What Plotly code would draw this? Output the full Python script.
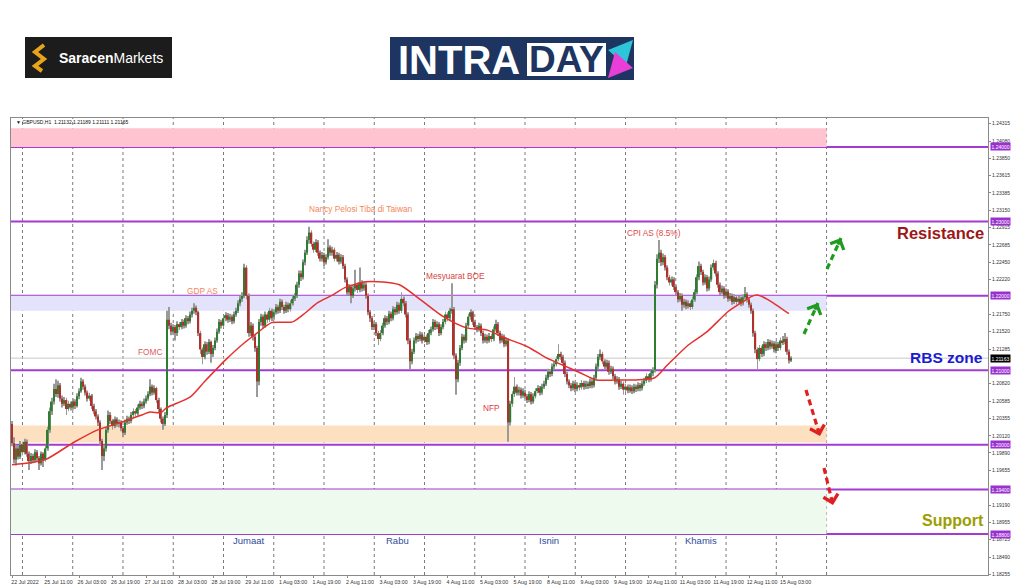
import plotly.graph_objects as go

# ---------------- data ----------------
x_labels = ["22 Jul 2022", "25 Jul 11:00", "26 Jul 03:00", "26 Jul 19:00", "27 Jul 11:00",
            "28 Jul 03:00", "28 Jul 19:00", "29 Jul 11:00", "1 Aug 03:00", "1 Aug 19:00",
            "2 Aug 11:00", "3 Aug 03:00", "3 Aug 19:00", "4 Aug 11:00", "5 Aug 03:00",
            "5 Aug 19:00", "8 Aug 11:00", "9 Aug 03:00", "9 Aug 19:00", "10 Aug 11:00",
            "11 Aug 03:00", "11 Aug 19:00", "12 Aug 11:00", "15 Aug 03:00"]
label_every = 16      # H1 bars between time labels
day_start_bar = 5     # first 00:00 bar (25 Jul)
bars_per_day = 24

opens = [
    1.2028, 1.2002, 1.1980, 1.1995, 1.1984, 1.2000, 1.1990, 1.2004, 1.1988, 1.1978,
    1.1985, 1.1979, 1.1990, 1.1982, 1.1975, 1.1988, 1.1980, 1.1995, 1.2020, 1.2045,
    1.2058, 1.2075, 1.2068, 1.2080, 1.2062, 1.2055, 1.2060, 1.2048, 1.2055, 1.2050,
    1.2058, 1.2052, 1.2065, 1.2072, 1.2085, 1.2078, 1.2070, 1.2062, 1.2066, 1.2052,
    1.2045, 1.2038, 1.2030, 1.2005, 1.1985, 1.1995, 1.2020, 1.2040, 1.2032, 1.2025,
    1.2034, 1.2028, 1.2030, 1.2022, 1.2016, 1.2030, 1.2035, 1.2032, 1.2040, 1.2045,
    1.2042, 1.2050, 1.2055, 1.2052, 1.2058, 1.2062, 1.2068, 1.2078, 1.2070, 1.2076,
    1.2060, 1.2048, 1.2035, 1.2028, 1.2040, 1.2168, 1.2160, 1.2152, 1.2158, 1.2150,
    1.2162, 1.2158, 1.2165, 1.2160, 1.2170, 1.2166, 1.2175, 1.2180, 1.2184, 1.2178,
    1.2150, 1.2128, 1.2118, 1.2135, 1.2125, 1.2138, 1.2122, 1.2130, 1.2140, 1.2152,
    1.2165, 1.2160, 1.2170, 1.2174, 1.2168, 1.2172, 1.2166, 1.2175, 1.2180, 1.2190,
    1.2196, 1.2200, 1.2238, 1.2200, 1.2150, 1.2160, 1.2145, 1.2130, 1.2085, 1.2165,
    1.2172, 1.2160, 1.2175, 1.2168, 1.2180, 1.2172, 1.2178, 1.2185, 1.2180, 1.2192,
    1.2185, 1.2180, 1.2188, 1.2182, 1.2190, 1.2196, 1.2200, 1.2215, 1.2230, 1.2225,
    1.2245, 1.2258, 1.2275, 1.2285, 1.2270, 1.2262, 1.2272, 1.2258, 1.2250, 1.2255,
    1.2245, 1.2252, 1.2265, 1.2258, 1.2262, 1.2250, 1.2255, 1.2246, 1.2252, 1.2240,
    1.2222, 1.2205, 1.2212, 1.2200, 1.2210, 1.2215, 1.2208, 1.2218, 1.2210, 1.2215,
    1.2200, 1.2178, 1.2170, 1.2158, 1.2162, 1.2150, 1.2142, 1.2150, 1.2160, 1.2170,
    1.2165, 1.2176, 1.2170, 1.2182, 1.2178, 1.2188, 1.2180, 1.2196, 1.2190, 1.2175,
    1.2140, 1.2112, 1.2125, 1.2140, 1.2146, 1.2142, 1.2148, 1.2140, 1.2145, 1.2138,
    1.2150, 1.2155, 1.2165, 1.2158, 1.2162, 1.2150, 1.2158, 1.2165, 1.2175, 1.2170,
    1.2180, 1.2182, 1.2120, 1.2088, 1.2110, 1.2130, 1.2145, 1.2140, 1.2160, 1.2172,
    1.2178, 1.2165, 1.2158, 1.2155, 1.2160, 1.2150, 1.2140, 1.2145, 1.2140, 1.2146,
    1.2142, 1.2155, 1.2162, 1.2150, 1.2140, 1.2145, 1.2135, 1.2140, 1.2030, 1.2055,
    1.2068, 1.2078, 1.2070, 1.2074, 1.2066, 1.2070, 1.2065, 1.2060, 1.2068, 1.2058,
    1.2065, 1.2072, 1.2076, 1.2070, 1.2078, 1.2082, 1.2090, 1.2098, 1.2095, 1.2105,
    1.2108, 1.2115, 1.2122, 1.2118, 1.2110, 1.2095, 1.2085, 1.2080, 1.2076, 1.2082,
    1.2075, 1.2080, 1.2077, 1.2083, 1.2078, 1.2082, 1.2079, 1.2085, 1.2080, 1.2090,
    1.2105, 1.2118, 1.2122, 1.2112, 1.2105, 1.2110, 1.2098, 1.2102, 1.2092, 1.2085,
    1.2088, 1.2078, 1.2082, 1.2074, 1.2078, 1.2073, 1.2077, 1.2072, 1.2078, 1.2075,
    1.2080, 1.2076, 1.2082, 1.2086, 1.2092, 1.2088, 1.2096, 1.2100, 1.2215, 1.2250,
    1.2258, 1.2245, 1.2252, 1.2238, 1.2225, 1.2218, 1.2222, 1.2212, 1.2205, 1.2195,
    1.2200, 1.2188, 1.2192, 1.2186, 1.2190, 1.2185, 1.2195, 1.2205, 1.2225, 1.2240,
    1.2232, 1.2218, 1.2225, 1.2210, 1.2222, 1.2238, 1.2244, 1.2230, 1.2215, 1.2205,
    1.2210, 1.2200, 1.2206, 1.2196, 1.2200, 1.2192, 1.2198, 1.2192, 1.2196, 1.2190,
    1.2198, 1.2202, 1.2195, 1.2188, 1.2180, 1.2150, 1.2128, 1.2115, 1.2130, 1.2122,
    1.2135, 1.2130, 1.2138, 1.2132, 1.2136, 1.2126, 1.2135, 1.2130, 1.2140, 1.2138,
    1.2142, 1.2125, 1.21132]

highs = [
    1.2032, 1.2010, 1.2000, 1.1999, 1.2005, 1.2004, 1.2008, 1.2007, 1.1991, 1.1989,
    1.1988, 1.1994, 1.1993, 1.1985, 1.1991, 1.1990, 1.1999, 1.2024, 1.2050, 1.2063,
    1.2082, 1.2088, 1.2086, 1.2083, 1.2066, 1.2064, 1.2063, 1.2059, 1.2058, 1.2062,
    1.2061, 1.2069, 1.2076, 1.2090, 1.2088, 1.2081, 1.2073, 1.2070, 1.2068, 1.2055,
    1.2048, 1.2041, 1.2033, 1.2008, 1.1999, 1.2024, 1.2046, 1.2044, 1.2035, 1.2038,
    1.2037, 1.2034, 1.2033, 1.2025, 1.2034, 1.2039, 1.2038, 1.2044, 1.2049, 1.2048,
    1.2054, 1.2059, 1.2058, 1.2062, 1.2066, 1.2072, 1.2088, 1.2081, 1.2080, 1.2078,
    1.2063, 1.2050, 1.2038, 1.2044, 1.2180, 1.2185, 1.2164, 1.2162, 1.2161, 1.2166,
    1.2165, 1.2169, 1.2168, 1.2174, 1.2173, 1.2179, 1.2184, 1.2190, 1.2187, 1.2180,
    1.2153, 1.2131, 1.2139, 1.2138, 1.2142, 1.2140, 1.2134, 1.2144, 1.2156, 1.2169,
    1.2168, 1.2174, 1.2178, 1.2177, 1.2176, 1.2175, 1.2179, 1.2184, 1.2194, 1.2200,
    1.2205, 1.2243, 1.2241, 1.2203, 1.2165, 1.2163, 1.2148, 1.2133, 1.2169, 1.2176,
    1.2175, 1.2179, 1.2178, 1.2184, 1.2183, 1.2182, 1.2189, 1.2188, 1.2196, 1.2195,
    1.2188, 1.2192, 1.2191, 1.2194, 1.2200, 1.2204, 1.2219, 1.2234, 1.2234, 1.2249,
    1.2262, 1.2280, 1.2293, 1.2288, 1.2273, 1.2276, 1.2275, 1.2261, 1.2259, 1.2258,
    1.2256, 1.2276, 1.2268, 1.2266, 1.2265, 1.2259, 1.2258, 1.2256, 1.2255, 1.2243,
    1.2225, 1.2216, 1.2215, 1.2214, 1.2235, 1.2218, 1.2238, 1.2221, 1.2219, 1.2218,
    1.2203, 1.2181, 1.2173, 1.2166, 1.2165, 1.2153, 1.2154, 1.2164, 1.2174, 1.2173,
    1.2180, 1.2179, 1.2186, 1.2185, 1.2192, 1.2191, 1.2205, 1.2199, 1.2193, 1.2178,
    1.2143, 1.2129, 1.2144, 1.2150, 1.2149, 1.2152, 1.2151, 1.2149, 1.2148, 1.2154,
    1.2159, 1.2169, 1.2168, 1.2166, 1.2165, 1.2162, 1.2169, 1.2179, 1.2178, 1.2184,
    1.2217, 1.2185, 1.2123, 1.2114, 1.2134, 1.2149, 1.2148, 1.2164, 1.2176, 1.2182,
    1.2180, 1.2168, 1.2161, 1.2164, 1.2163, 1.2153, 1.2149, 1.2148, 1.2150, 1.2149,
    1.2159, 1.2168, 1.2165, 1.2153, 1.2149, 1.2148, 1.2144, 1.2143, 1.2059, 1.2072,
    1.2091, 1.2081, 1.2078, 1.2077, 1.2076, 1.2074, 1.2068, 1.2072, 1.2071, 1.2069,
    1.2076, 1.2080, 1.2079, 1.2082, 1.2086, 1.2094, 1.2102, 1.2101, 1.2109, 1.2112,
    1.2119, 1.2135, 1.2125, 1.2121, 1.2113, 1.2098, 1.2088, 1.2083, 1.2086, 1.2085,
    1.2084, 1.2083, 1.2087, 1.2086, 1.2086, 1.2085, 1.2089, 1.2088, 1.2094, 1.2109,
    1.2122, 1.2128, 1.2125, 1.2115, 1.2114, 1.2113, 1.2106, 1.2105, 1.2095, 1.2092,
    1.2091, 1.2086, 1.2085, 1.2082, 1.2081, 1.2081, 1.2080, 1.2082, 1.2081, 1.2084,
    1.2083, 1.2086, 1.2090, 1.2096, 1.2095, 1.2100, 1.2104, 1.2220, 1.2256, 1.2275,
    1.2262, 1.2257, 1.2255, 1.2241, 1.2228, 1.2226, 1.2225, 1.2215, 1.2208, 1.2204,
    1.2203, 1.2196, 1.2195, 1.2194, 1.2193, 1.2199, 1.2209, 1.2229, 1.2246, 1.2243,
    1.2235, 1.2229, 1.2228, 1.2226, 1.2242, 1.2249, 1.2247, 1.2233, 1.2218, 1.2214,
    1.2213, 1.2210, 1.2209, 1.2204, 1.2203, 1.2202, 1.2201, 1.2200, 1.2199, 1.2202,
    1.2212, 1.2205, 1.2198, 1.2191, 1.2183, 1.2153, 1.2131, 1.2134, 1.2133, 1.2139,
    1.2138, 1.2142, 1.2141, 1.2140, 1.2139, 1.2139, 1.2138, 1.2144, 1.2146, 1.2150,
    1.2145, 1.2128, 1.21189]

lows = [
    1.1998, 1.1975, 1.1972, 1.1980, 1.1981, 1.1986, 1.1987, 1.1984, 1.1966, 1.1974,
    1.1975, 1.1976, 1.1978, 1.1966, 1.1972, 1.1970, 1.1977, 1.1992, 1.2016, 1.2040,
    1.2054, 1.2064, 1.2063, 1.2058, 1.2050, 1.2052, 1.2040, 1.2045, 1.2046, 1.2047,
    1.2048, 1.2050, 1.2061, 1.2070, 1.2074, 1.2066, 1.2058, 1.2059, 1.2048, 1.2041,
    1.2034, 1.2025, 1.2000, 1.1966, 1.1978, 1.1991, 1.2016, 1.2028, 1.2020, 1.2022,
    1.2024, 1.2023, 1.2018, 1.2010, 1.2013, 1.2027, 1.2028, 1.2029, 1.2037, 1.2038,
    1.2039, 1.2047, 1.2048, 1.2049, 1.2055, 1.2059, 1.2065, 1.2066, 1.2067, 1.2056,
    1.2044, 1.2030, 1.2020, 1.2025, 1.2036, 1.2155, 1.2147, 1.2148, 1.2140, 1.2146,
    1.2154, 1.2155, 1.2156, 1.2157, 1.2162, 1.2163, 1.2171, 1.2176, 1.2174, 1.2146,
    1.2122, 1.2108, 1.2115, 1.2121, 1.2122, 1.2110, 1.2118, 1.2127, 1.2137, 1.2149,
    1.2156, 1.2157, 1.2166, 1.2164, 1.2165, 1.2162, 1.2163, 1.2172, 1.2177, 1.2186,
    1.2192, 1.2197, 1.2195, 1.2145, 1.2146, 1.2140, 1.2125, 1.2064, 1.2080, 1.2160,
    1.2156, 1.2157, 1.2164, 1.2165, 1.2166, 1.2168, 1.2175, 1.2176, 1.2177, 1.2181,
    1.2176, 1.2177, 1.2178, 1.2179, 1.2187, 1.2193, 1.2197, 1.2211, 1.2220, 1.2222,
    1.2241, 1.2255, 1.2270, 1.2266, 1.2258, 1.2259, 1.2254, 1.2246, 1.2246, 1.2240,
    1.2242, 1.2249, 1.2254, 1.2254, 1.2246, 1.2246, 1.2242, 1.2243, 1.2236, 1.2218,
    1.2200, 1.2201, 1.2190, 1.2197, 1.2206, 1.2204, 1.2205, 1.2206, 1.2207, 1.2196,
    1.2174, 1.2165, 1.2154, 1.2154, 1.2146, 1.2134, 1.2139, 1.2147, 1.2157, 1.2161,
    1.2162, 1.2166, 1.2167, 1.2174, 1.2175, 1.2176, 1.2177, 1.2186, 1.2171, 1.2135,
    1.2101, 1.2108, 1.2122, 1.2136, 1.2138, 1.2139, 1.2136, 1.2137, 1.2134, 1.2135,
    1.2147, 1.2152, 1.2154, 1.2155, 1.2146, 1.2147, 1.2155, 1.2162, 1.2166, 1.2167,
    1.2176, 1.2115, 1.2067, 1.2084, 1.2106, 1.2127, 1.2136, 1.2137, 1.2157, 1.2168,
    1.2161, 1.2154, 1.2151, 1.2152, 1.2146, 1.2136, 1.2137, 1.2136, 1.2137, 1.2138,
    1.2139, 1.2152, 1.2146, 1.2136, 1.2137, 1.2131, 1.2132, 1.2004, 1.2026, 1.2051,
    1.2064, 1.2066, 1.2066, 1.2062, 1.2063, 1.2061, 1.2056, 1.2057, 1.2054, 1.2055,
    1.2062, 1.2069, 1.2066, 1.2067, 1.2075, 1.2079, 1.2087, 1.2091, 1.2092, 1.2101,
    1.2105, 1.2112, 1.2114, 1.2106, 1.2091, 1.2081, 1.2076, 1.2072, 1.2073, 1.2071,
    1.2072, 1.2073, 1.2074, 1.2074, 1.2075, 1.2075, 1.2076, 1.2076, 1.2077, 1.2087,
    1.2101, 1.2114, 1.2108, 1.2101, 1.2102, 1.2094, 1.2095, 1.2088, 1.2081, 1.2082,
    1.2074, 1.2075, 1.2067, 1.2071, 1.2069, 1.2070, 1.2068, 1.2069, 1.2071, 1.2072,
    1.2072, 1.2073, 1.2079, 1.2083, 1.2084, 1.2085, 1.2092, 1.2097, 1.2210, 1.2244,
    1.2240, 1.2241, 1.2234, 1.2221, 1.2214, 1.2214, 1.2208, 1.2201, 1.2191, 1.2192,
    1.2180, 1.2184, 1.2182, 1.2183, 1.2181, 1.2182, 1.2192, 1.2202, 1.2221, 1.2228,
    1.2214, 1.2215, 1.2206, 1.2207, 1.2219, 1.2234, 1.2226, 1.2211, 1.2201, 1.2202,
    1.2196, 1.2197, 1.2192, 1.2193, 1.2188, 1.2189, 1.2188, 1.2189, 1.2186, 1.2187,
    1.2195, 1.2191, 1.2184, 1.2176, 1.2145, 1.2123, 1.2101, 1.2112, 1.2118, 1.2119,
    1.2126, 1.2127, 1.2128, 1.2129, 1.2124, 1.2123, 1.2126, 1.2127, 1.2134, 1.2135,
    1.2121, 1.2109, 1.21111]

closes = [
    1.2002, 1.1980, 1.1995, 1.1984, 1.2000, 1.1990, 1.2004, 1.1988, 1.1978, 1.1985,
    1.1979, 1.1990, 1.1982, 1.1975, 1.1988, 1.1980, 1.1995, 1.2020, 1.2045, 1.2058,
    1.2075, 1.2068, 1.2080, 1.2062, 1.2055, 1.2060, 1.2048, 1.2055, 1.2050, 1.2058,
    1.2052, 1.2065, 1.2072, 1.2085, 1.2078, 1.2070, 1.2062, 1.2066, 1.2052, 1.2045,
    1.2038, 1.2030, 1.2005, 1.1985, 1.1995, 1.2020, 1.2040, 1.2032, 1.2025, 1.2034,
    1.2028, 1.2030, 1.2022, 1.2016, 1.2030, 1.2035, 1.2032, 1.2040, 1.2045, 1.2042,
    1.2050, 1.2055, 1.2052, 1.2058, 1.2062, 1.2068, 1.2078, 1.2070, 1.2076, 1.2060,
    1.2048, 1.2035, 1.2028, 1.2040, 1.2168, 1.2160, 1.2152, 1.2158, 1.2150, 1.2162,
    1.2158, 1.2165, 1.2160, 1.2170, 1.2166, 1.2175, 1.2180, 1.2184, 1.2178, 1.2150,
    1.2128, 1.2118, 1.2135, 1.2125, 1.2138, 1.2122, 1.2130, 1.2140, 1.2152, 1.2165,
    1.2160, 1.2170, 1.2174, 1.2168, 1.2172, 1.2166, 1.2175, 1.2180, 1.2190, 1.2196,
    1.2200, 1.2238, 1.2200, 1.2150, 1.2160, 1.2145, 1.2130, 1.2085, 1.2165, 1.2172,
    1.2160, 1.2175, 1.2168, 1.2180, 1.2170, 1.2178, 1.2185, 1.2180, 1.2192, 1.2185,
    1.2180, 1.2188, 1.2182, 1.2190, 1.2196, 1.2200, 1.2215, 1.2230, 1.2225, 1.2245,
    1.2258, 1.2275, 1.2285, 1.2270, 1.2262, 1.2272, 1.2258, 1.2250, 1.2255, 1.2245,
    1.2252, 1.2265, 1.2258, 1.2262, 1.2250, 1.2255, 1.2246, 1.2252, 1.2240, 1.2222,
    1.2205, 1.2212, 1.2200, 1.2210, 1.2215, 1.2208, 1.2218, 1.2210, 1.2215, 1.2200,
    1.2178, 1.2170, 1.2158, 1.2162, 1.2150, 1.2142, 1.2150, 1.2160, 1.2170, 1.2165,
    1.2176, 1.2170, 1.2182, 1.2178, 1.2188, 1.2180, 1.2196, 1.2190, 1.2175, 1.2140,
    1.2112, 1.2125, 1.2140, 1.2146, 1.2142, 1.2148, 1.2140, 1.2145, 1.2138, 1.2150,
    1.2155, 1.2165, 1.2158, 1.2162, 1.2150, 1.2158, 1.2165, 1.2175, 1.2170, 1.2180,
    1.2182, 1.2120, 1.2088, 1.2110, 1.2130, 1.2145, 1.2140, 1.2160, 1.2172, 1.2178,
    1.2165, 1.2158, 1.2155, 1.2160, 1.2150, 1.2140, 1.2145, 1.2140, 1.2146, 1.2142,
    1.2155, 1.2162, 1.2150, 1.2140, 1.2145, 1.2135, 1.2140, 1.2030, 1.2055, 1.2068,
    1.2078, 1.2070, 1.2074, 1.2066, 1.2072, 1.2065, 1.2060, 1.2068, 1.2058, 1.2065,
    1.2072, 1.2076, 1.2070, 1.2078, 1.2082, 1.2090, 1.2098, 1.2095, 1.2105, 1.2108,
    1.2115, 1.2122, 1.2118, 1.2110, 1.2095, 1.2085, 1.2080, 1.2076, 1.2082, 1.2075,
    1.2080, 1.2077, 1.2083, 1.2078, 1.2082, 1.2079, 1.2085, 1.2080, 1.2090, 1.2105,
    1.2118, 1.2122, 1.2112, 1.2105, 1.2110, 1.2098, 1.2102, 1.2092, 1.2085, 1.2088,
    1.2078, 1.2082, 1.2074, 1.2078, 1.2073, 1.2077, 1.2072, 1.2078, 1.2075, 1.2080,
    1.2076, 1.2082, 1.2086, 1.2092, 1.2088, 1.2096, 1.2100, 1.2215, 1.2250, 1.2258,
    1.2245, 1.2252, 1.2238, 1.2225, 1.2218, 1.2222, 1.2212, 1.2205, 1.2195, 1.2200,
    1.2188, 1.2192, 1.2186, 1.2190, 1.2185, 1.2195, 1.2205, 1.2225, 1.2240, 1.2232,
    1.2218, 1.2225, 1.2210, 1.2222, 1.2238, 1.2244, 1.2230, 1.2215, 1.2205, 1.2210,
    1.2200, 1.2206, 1.2196, 1.2200, 1.2192, 1.2198, 1.2192, 1.2196, 1.2190, 1.2198,
    1.2202, 1.2195, 1.2188, 1.2180, 1.2150, 1.2128, 1.2115, 1.2130, 1.2122, 1.2135,
    1.2130, 1.2138, 1.2132, 1.2136, 1.2128, 1.2135, 1.2130, 1.2140, 1.2138, 1.2142,
    1.2125, 1.2113, 1.21165]

# moving average (red line) sampled at bar positions
ma_bars = [0, 9, 16, 30, 41, 51, 62, 66, 71, 74, 85, 92, 102, 111, 117, 124, 134, 140,
           146, 153, 159, 169, 175, 185, 195, 206, 217, 227, 234, 246, 255, 263, 271,
           279, 288, 298, 307, 313, 323, 332, 342, 349, 353, 356, 361, 371]
ma_vals = [1.1973, 1.1976, 1.1980, 1.2004, 1.2020, 1.2029, 1.2040, 1.2044, 1.2043, 1.2050,
           1.2064, 1.2085, 1.2114, 1.2137, 1.2150, 1.2164, 1.2165, 1.2177, 1.2191, 1.2201,
           1.2211, 1.2219, 1.2219, 1.2215, 1.2195, 1.2172, 1.2157, 1.2154, 1.2145, 1.2132,
           1.2117, 1.2107, 1.2097, 1.2087, 1.2087, 1.2087, 1.2090, 1.2107, 1.2134, 1.2152,
           1.2179, 1.2192, 1.2199, 1.2201, 1.2195, 1.2176]

level_prices = [1.2400, 1.2300, 1.2200, 1.2100, 1.2000, 1.1940, 1.1880]
y_ticks = [1.24315, 1.24080, 1.23850, 1.23615, 1.23385, 1.23150, 1.22915, 1.22685,
           1.22450, 1.22220, 1.21750, 1.21520, 1.21285, 1.20820,
           1.20585, 1.20355, 1.20120, 1.19890, 1.19655, 1.19190, 1.18955,
           1.18725, 1.18490, 1.18255]
last_price = 1.21163

zone_low = [1.2400, 1.2180, 1.2003, 1.1880]
zone_high = [1.2425, 1.2200, 1.2026, 1.1940]
zone_colors = ["#ffc4cf", "#e3e3fb", "#fde0c0", "#edfaed"]
zone_end_bar = 389

event_text = ["FOMC", "GDP AS", "Nancy Pelosi Tiba di Taiwan", "Mesyuarat BOE", "NFP", "CPI AS (8.5%)"]
event_bar = [66, 91, 166.7, 212, 229, 306.6]
event_price = [1.2125, 1.2207, 1.2317, 1.2227, 1.2050, 1.2285]
event_color = ["#e25c5c", "#f2875a", "#f2875a", "#d84444", "#e03a3a", "#e04a4a"]

day_text = ["Jumaat", "Rabu", "Isnin", "Khamis"]
day_bar = [113, 184, 256.4, 329]
day_price = 1.1871

# ---------------- geometry helpers (pixel -> paper) ----------------
W, H = 1024, 587
PL, PR, PT, PB = 11, 988, 118, 575


def fx(px):
    return (px - PL) / (PR - PL)


def fy(py):
    return (PB - py) / (PB - PT)


n = len(closes)
idx = list(range(n))
body_base = [min(o, c) for o, c in zip(opens, closes)]
body_len = [max(abs(c - o), 0.00004) for o, c in zip(opens, closes)]
body_col = ["#2f7d32" if c >= o else "#b0302c" for o, c in zip(opens, closes)]
wick_len = [h - l for h, l in zip(highs, lows)]

fig = go.Figure()
fig.add_trace(go.Bar(x=idx, base=lows, y=wick_len, width=0.42,
                     marker=dict(color="#9a9a9a", line=dict(width=0)), hoverinfo="skip"))
fig.add_trace(go.Bar(x=idx, base=body_base, y=body_len, width=0.8,
                     marker=dict(color=body_col, line=dict(width=0)), hoverinfo="skip"))
fig.add_trace(go.Scatter(x=ma_bars, y=ma_vals, mode="lines",
                         line=dict(color="#e5312b", width=1.5, shape="spline", smoothing=0.7),
                         hoverinfo="skip"))

shapes = []
for lo, hi, col in zip(zone_low, zone_high, zone_colors):
    shapes.append(dict(type="rect", xref="x", yref="y", x0=-0.5, x1=zone_end_bar,
                       y0=lo, y1=hi, fillcolor=col, line=dict(width=0), layer="below"))
d = day_start_bar
while d <= zone_end_bar:
    shapes.append(dict(type="line", xref="x", yref="paper", x0=d, x1=d, y0=0, y1=1,
                       line=dict(color="#7a7a7a", width=1, dash="dot"), layer="below"))
    d += bars_per_day
shapes.append(dict(type="line", xref="paper", yref="y", x0=0, x1=1, y0=last_price, y1=last_price,
                   line=dict(color="#c8c8c8", width=1), layer="below"))
for lv in level_prices:
    shapes.append(dict(type="line", xref="paper", yref="y", x0=0, x1=1, y0=lv, y1=lv,
                       line=dict(color="#a23bd2", width=2), layer="below"))

arrows = [((804, 334), (818, 303), "#1f9c1f"),
          ((827, 269), (841, 238), "#1f9c1f"),
          ((806, 390), (820, 436), "#e02020"),
          ((824, 468), (833, 505), "#e02020")]
for (sx, sy), (tx, ty), col in arrows:
    shapes.append(dict(type="line", xref="paper", yref="paper", x0=fx(sx), y0=fy(sy),
                       x1=fx(tx), y1=fy(ty), line=dict(color=col, width=3.2, dash="6px,4px")))

# logos
shapes.append(dict(type="rect", xref="paper", yref="paper", x0=fx(25), x1=fx(172),
                   y0=fy(78), y1=fy(37), fillcolor="#1c1c1c", line=dict(width=0)))
s_pts = [(44, 45), (35, 52), (44, 59), (35, 66), (42, 71)]
s_path = "M " + " L ".join(f"{fx(a):.5f},{fy(b):.5f}" for a, b in s_pts)
shapes.append(dict(type="path", xref="paper", yref="paper", path=s_path,
                   line=dict(color="#e8a51c", width=4)))
shapes.append(dict(type="rect", xref="paper", yref="paper", x0=fx(390), x1=fx(634),
                   y0=fy(80), y1=fy(37), fillcolor="#1d3560", line=dict(width=0)))
shapes.append(dict(type="rect", xref="paper", yref="paper", x0=fx(527), x1=fx(606),
                   y0=fy(76), y1=fy(43), fillcolor="#ffffff", line=dict(width=0)))

FONT = "Liberation Sans, Arial"
ann = []
for (sx, sy), (tx, ty), col in arrows:
    vx, vy = sx - tx, sy - ty
    ln = (vx * vx + vy * vy) ** 0.5
    ann.append(dict(xref="paper", yref="paper", x=fx(tx), y=fy(ty), text="", showarrow=True,
                    ax=vx / ln * 9, ay=vy / ln * 9, arrowhead=4, arrowsize=0.9,
                    arrowwidth=3.2, arrowcolor=col))
for t, b, p, c in zip(event_text, event_bar, event_price, event_color):
    ann.append(dict(x=b, y=p, xref="x", yref="y", text=t, showarrow=False,
                    xanchor="center", yanchor="middle",
                    font=dict(family=FONT, size=8.3, color=c)))
for t, b in zip(day_text, day_bar):
    ann.append(dict(x=b, y=day_price, xref="x", yref="y", text=t, showarrow=False,
                    xanchor="center", yanchor="middle",
                    font=dict(family=FONT, size=9.5, color="#2f4a9e")))
ann.append(dict(xref="paper", yref="paper", x=fx(986), y=fy(233), xanchor="right", yanchor="middle",
                text="<b>Resistance</b>", showarrow=False,
                font=dict(family=FONT, size=16.5, color="#9c1818")))
ann.append(dict(xref="paper", yref="paper", x=fx(985), y=fy(357), xanchor="right", yanchor="middle",
                text="<b>RBS zone</b>", showarrow=False,
                font=dict(family=FONT, size=15.5, color="#1a1ad2")))
ann.append(dict(xref="paper", yref="paper", x=fx(986), y=fy(520), xanchor="right", yanchor="middle",
                text="<b>Support</b>", showarrow=False,
                font=dict(family=FONT, size=16, color="#9d9d00")))
for lv in level_prices:
    ann.append(dict(xref="paper", yref="y", x=1, y=lv, xanchor="left", yanchor="middle", xshift=2,
                    text=f"{lv:.5f}", showarrow=False, bgcolor="#9b30d0", borderpad=0.5,
                    font=dict(family=FONT, size=5, color="white")))
ann.append(dict(xref="paper", yref="y", x=1, y=last_price, xanchor="left", yanchor="middle", xshift=2,
                text=f"{last_price:.5f}", showarrow=False, bgcolor="#000000", borderpad=0.5,
                font=dict(family=FONT, size=5, color="white")))
ann.append(dict(xref="paper", yref="paper", x=fx(14), y=fy(122), xanchor="left", yanchor="middle",
                text="▼ GBPUSD,H1  1.21132 1.21189 1.21111 1.21165", showarrow=False,
                font=dict(family=FONT, size=5, color="#111111")))
ann.append(dict(xref="paper", yref="paper", x=fx(57), y=fy(57.5), xanchor="left", yanchor="middle",
                text="<b>Saracen</b>Markets", showarrow=False,
                font=dict(family=FONT, size=14, color="white")))
ann.append(dict(xref="paper", yref="paper", x=fx(396), y=fy(60), xanchor="left", yanchor="middle",
                text="<b>INTRA</b>", showarrow=False,
                font=dict(family=FONT, size=40, color="white")))
ann.append(dict(xref="paper", yref="paper", x=fx(566.5), y=fy(60), xanchor="center", yanchor="middle",
                text="<b>DAY</b>", showarrow=False,
                font=dict(family=FONT, size=37, color="#1d3560")))
ann.append(dict(xref="paper", yref="paper", x=fx(633), y=fy(40), text="", showarrow=True,
                ax=-17, ay=19, arrowhead=2, arrowsize=0.8, arrowwidth=6, arrowcolor="#2cc6d8"))
ann.append(dict(xref="paper", yref="paper", x=fx(608), y=fy(78), text="", showarrow=True,
                ax=17, ay=-19, arrowhead=2, arrowsize=0.8, arrowwidth=6, arrowcolor="#e93fd8"))

tick_positions = [i * label_every for i in range(len(x_labels))]

fig.update_layout(
    width=W, height=H,
    margin=dict(l=PL, r=W - PR, t=PT, b=H - PB, autoexpand=False),
    paper_bgcolor="white", plot_bgcolor="white",
    showlegend=False, barmode="overlay",
    shapes=shapes, annotations=ann,
    xaxis=dict(range=[-0.48, 466.1], tickmode="array", tickvals=tick_positions,
               ticktext=x_labels, tickfont=dict(family=FONT, size=5.3, color="#333333"),
               showgrid=False, zeroline=False, showline=True, linecolor="#8a8a8a", linewidth=1,
               mirror=True, ticks="outside", ticklen=2, tickcolor="#8a8a8a",
               ticklabelshift=13, automargin=False, fixedrange=True),
    yaxis=dict(range=[1.1825, 1.243893], side="right", tickmode="array", tickvals=y_ticks,
               ticktext=[f"{v:.5f}" for v in y_ticks],
               tickfont=dict(family=FONT, size=5, color="#333333"),
               showgrid=False, zeroline=False, showline=True, linecolor="#8a8a8a", linewidth=1,
               mirror=True, ticks="outside", ticklen=2, tickcolor="#8a8a8a",
               automargin=False, fixedrange=True),
)

fig.write_html("out.html", config={"displayModeBar": False},
               post_script="document.body.style.margin='0';document.body.style.overflow='hidden';")
